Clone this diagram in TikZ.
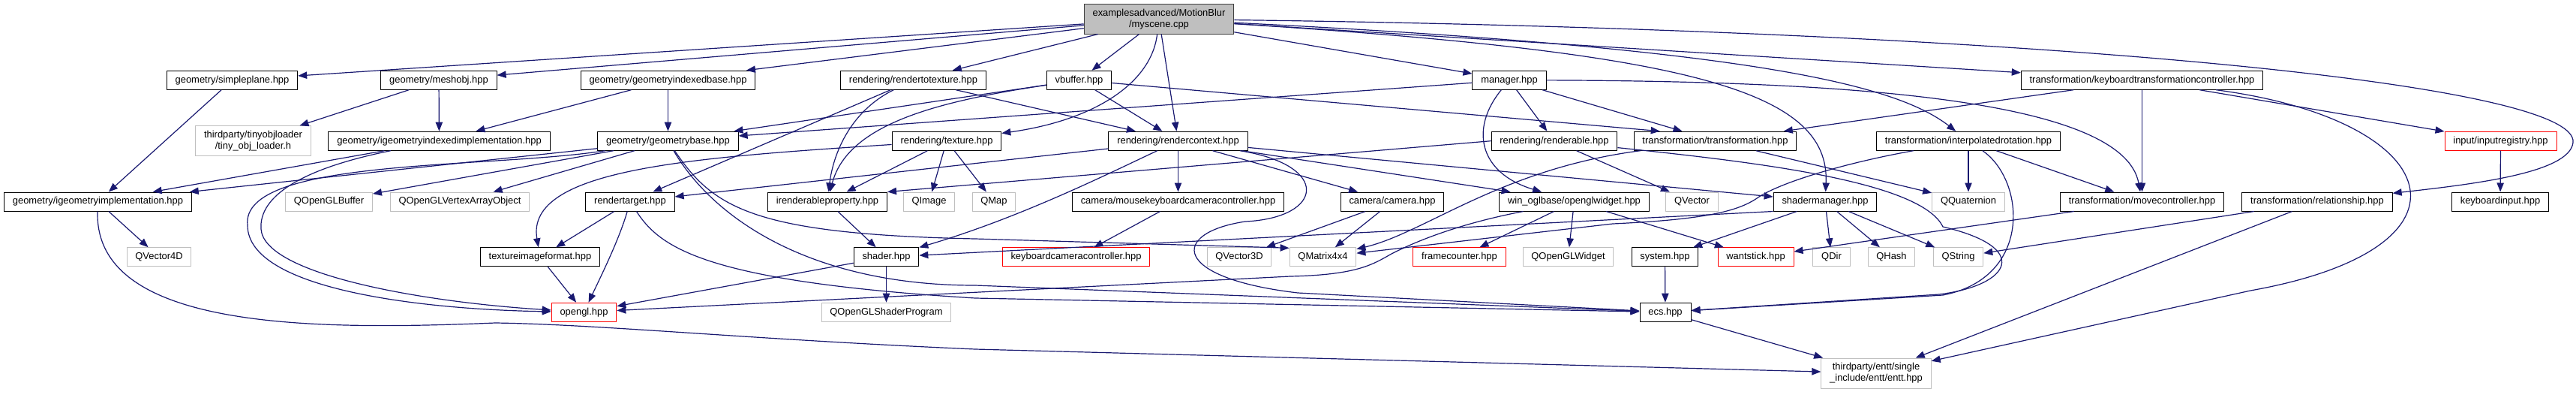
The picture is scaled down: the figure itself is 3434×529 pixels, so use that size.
\documentclass[tikz,border=0pt]{standalone}
\usepackage{fontspec}
\setmainfont{Liberation Sans}
\usetikzlibrary{arrows.meta}
\definecolor{dxblue}{HTML}{191970}
\definecolor{dxgrey}{HTML}{BFBFBF}
\definecolor{dxred}{HTML}{FF0000}
\definecolor{dxdark}{HTML}{404040}
\tikzset{
  every picture/.style={font=\fontsize{9.7}{11.25}\selectfont, line width=0.75pt},
  hdr/.style={draw=#1, inner xsep=8.5pt, inner ysep=1pt, minimum height=18.75pt, align=center},
  hdr/.default=black,
  dep/.style={-{Triangle[length=9pt, width=7pt]}, draw=dxblue, line width=0.9pt},
}

\begin{document}
\begin{tikzpicture}[x=0.75pt, y=-0.75pt,
  rootfile/.style={hdr=dxdark, fill=dxgrey, minimum height=29.6pt},
  ext/.style={hdr=dxgrey},
  miss/.style={hdr=dxred}]
  \useasboundingbox (0,0) rectangle (3434,529);

  \node[rootfile] (root) at (1545,25.3) {examplesadvanced/MotionBlur\\/myscene.cpp};

  \node[hdr] (simpleplane) at (309.5,106.7) {geometry/simpleplane.hpp};
  \node[hdr] (meshobj) at (585,106.7) {geometry/meshobj.hpp};
  \node[hdr] (gidxbase) at (890.5,106.7) {geometry/geometryindexedbase.hpp};
  \node[hdr] (rtt) at (1217.5,106.7) {rendering/rendertotexture.hpp};
  \node[hdr] (vbuffer) at (1438.5,106.7) {vbuffer.hpp};
  \node[hdr] (manager) at (2012,106.7) {manager.hpp};
  \node[hdr] (kbdtrafo) at (2855.5,106.7) {transformation/keyboardtransformationcontroller.hpp};

  \node[ext, minimum height=29.6pt] (tinyobj) at (337.5,187.5) {thirdparty/tinyobjloader\\/tiny\_obj\_loader.h};
  \node[hdr] (igidx) at (585.5,187.7) {geometry/igeometryindexedimplementation.hpp};
  \node[hdr] (gbase) at (890.5,187.7) {geometry/geometrybase.hpp};
  \node[hdr] (texture) at (1262,187.7) {rendering/texture.hpp};
  \node[hdr] (rctx) at (1570.5,187.7) {rendering/rendercontext.hpp};
  \node[hdr] (renderable) at (2072,187.7) {rendering/renderable.hpp};
  \node[hdr] (trafo) at (2286.5,187.7) {transformation/transformation.hpp};
  \node[hdr] (interprot) at (2624,187.7) {transformation/interpolatedrotation.hpp};
  \node[miss] (inputreg) at (3333.5,187.7) {input/inputregistry.hpp};

  \node[hdr] (igimpl) at (130.5,268.5) {geometry/igeometryimplementation.hpp};
  \node[ext] (qglbuffer) at (438.5,268.5) {QOpenGLBuffer};
  \node[ext] (qglvao) at (613,268.5) {QOpenGLVertexArrayObject};
  \node[hdr] (rtarget) at (840,268.5) {rendertarget.hpp};
  \node[hdr] (irprop) at (1103,268.5) {irenderableproperty.hpp};
  \node[ext] (qimage) at (1238.5,268.5) {QImage};
  \node[ext] (qmap) at (1325,268.5) {QMap};
  \node[hdr] (mkcc) at (1570.5,268.5) {camera/mousekeyboardcameracontroller.hpp};
  \node[hdr] (camera) at (1856,268.5) {camera/camera.hpp};
  \node[hdr] (oglwidget) at (2098.5,268.5) {win\_oglbase/openglwidget.hpp};
  \node[ext] (qvector) at (2255.5,268.5) {QVector};
  \node[hdr] (shadermgr) at (2433,268.5) {shadermanager.hpp};
  \node[ext] (qquat) at (2624,268.5) {QQuaternion};
  \node[hdr] (movectrl) at (2855.5,268.5) {transformation/movecontroller.hpp};
  \node[hdr] (relation) at (3089,268.5) {transformation/relationship.hpp};
  \node[hdr] (kbdinput) at (3333,268.5) {keyboardinput.hpp};

  \node[ext] (qvec4d) at (212,342.3) {QVector4D};
  \node[hdr] (tiformat) at (720,342.3) {textureimageformat.hpp};
  \node[hdr] (shader) at (1181.5,342.3) {shader.hpp};
  \node[miss] (kbdcam) at (1434.5,342.3) {keyboardcameracontroller.hpp};
  \node[ext] (qvec3d) at (1652,342.3) {QVector3D};
  \node[ext] (qmatrix) at (1763.5,342.3) {QMatrix4x4};
  \node[miss] (framecnt) at (1945.5,342.3) {framecounter.hpp};
  \node[ext] (qglwidget) at (2090.5,342.3) {QOpenGLWidget};
  \node[hdr] (system) at (2219.5,342.3) {system.hpp};
  \node[miss] (wantstick) at (2340.5,342.3) {wantstick.hpp};
  \node[ext] (qdir) at (2441.5,342.3) {QDir};
  \node[ext] (qhash) at (2521.5,342.3) {QHash};
  \node[ext] (qstring) at (2610.5,342.3) {QString};

  \node[miss] (opengl) at (778.5,415.7) {opengl.hpp};
  \node[ext] (qglshader) at (1181.5,415.7) {QOpenGLShaderProgram};
  \node[hdr] (ecs) at (2220,415.7) {ecs.hpp};
  \node[ext, minimum height=30pt] (entt) at (2501,497) {thirdparty/entt/single\\\_include/entt/entt.hpp};

  \draw[dep] (root) -- (simpleplane);
  \draw[dep] (root) -- (meshobj);
  \draw[dep] (root) -- (gidxbase);
  \draw[dep] (root) -- (rtt);
  \draw[dep] (root) -- (vbuffer);
  \draw[dep] (root) -- (rctx);
  \draw[dep] (root) .. controls (1535,110) and (1460,160) .. (texture);
  \draw[dep] (root) -- (manager);
  \draw[dep] (root) .. controls (2250,70) and (2440,120) .. (shadermgr);
  \draw[dep] (root) .. controls (2350,65) and (2530,115) .. (interprot);
  \draw[dep] (root) -- (kbdtrafo);
  \draw[dep] (root) .. controls (2700,40) and (3440,110) .. (3430,190) .. controls (3425,230) and (3300,245) .. (relation);

  \draw[dep] (simpleplane) -- (igimpl);
  \draw[dep] (meshobj) -- (tinyobj);
  \draw[dep] (meshobj) -- (igidx);
  \draw[dep] (gidxbase) -- (igidx);
  \draw[dep] (gidxbase) -- (gbase);
  \draw[dep] (rtt) -- (rtarget);
  \draw[dep] (rtt) .. controls (1130,150) and (1110,210) .. (irprop);
  \draw[dep] (rtt) -- (rctx);
  \draw[dep] (vbuffer) -- (gbase);
  \draw[dep] (vbuffer) .. controls (1250,135) and (1130,165) .. (irprop);
  \draw[dep] (vbuffer) -- (rctx);
  \draw[dep] (vbuffer) -- (trafo.170);
  \draw[dep] (manager) -- (gbase);
  \draw[dep] (manager) -- (trafo);
  \draw[dep] (manager) -- (renderable);
  \draw[dep] (manager) .. controls (1960,170) and (1970,230) .. (oglwidget);
  \draw[dep] (manager) .. controls (2450,108) and (2830,130) .. (movectrl);
  \draw[dep] (kbdtrafo) -- (trafo);
  \draw[dep] (kbdtrafo) -- (movectrl);
  \draw[dep] (kbdtrafo) -- (inputreg);
  \draw[dep] (kbdtrafo) .. controls (3260,160) and (3320,330) .. (3000,387) -- (entt);

  \draw[dep] (igidx) -- (igimpl);
  \draw[dep] (igidx) .. controls (400,225) and (345,262) .. (348,305) .. controls (352,365) and (560,402) .. (opengl);
  \draw[dep] (gbase) -- (igimpl);
  \draw[dep] (gbase) -- (qglbuffer);
  \draw[dep] (gbase) -- (qglvao);
  \draw[dep] (gbase) .. controls (650,225) and (320,210) .. (330,300) .. controls (330,385) and (560,412) .. (opengl);
  \draw[dep] (gbase) .. controls (950,275) and (1000,312) .. (1300,318) -- (qmatrix.165);
  \draw[dep] (gbase) .. controls (950,290) and (1080,380) .. (1300,380) -- (ecs);
  \draw[dep] (texture) .. controls (920,210) and (700,225) .. (tiformat);
  \draw[dep] (texture) -- (irprop);
  \draw[dep] (texture) -- (qimage);
  \draw[dep] (texture) -- (qmap);
  \draw[dep] (rctx) -- (rtarget);
  \draw[dep] (rctx) .. controls (1480,230) and (1360,290) .. (shader);
  \draw[dep] (rctx) -- (mkcc);
  \draw[dep] (rctx) -- (camera);
  \draw[dep] (rctx) -- (oglwidget);
  \draw[dep] (rctx) -- (shadermgr);
  \draw[dep] (rctx) .. controls (1775,220) and (1765,290) .. (1660,295) .. controls (1560,310) and (1560,370) .. (1730,390) -- (ecs);
  \draw[dep] (renderable.west) -- (irprop.north east);
  \draw[dep] (renderable) -- (qvector);
  \draw[dep] (renderable) .. controls (2330,215) and (2560,240) .. (2590,302) .. controls (2710,330) and (2680,380) .. (2585,392) -- (ecs);
  \draw[dep] (trafo) .. controls (2000,225) and (1900,310) .. (qmatrix);
  \draw[dep] (trafo) -- (qquat);
  \draw[dep] (interprot) -- (qquat);
  \draw[dep] (interprot) -- (movectrl);
  \draw[dep] (interprot) .. controls (2700,240) and (2710,370) .. (2590,393) -- (ecs);
  \draw[dep] (interprot) .. controls (2470,215) and (2380,240) .. (2345,262) .. controls (2320,280) and (2280,292) .. (2150,298) -- (qmatrix);
  \draw[dep] (inputreg) -- (kbdinput);

  \draw[dep] (igimpl) -- (qvec4d);
  \draw[dep] (igimpl) .. controls (125,440) and (420,440) .. (660,430) .. controls (800,432) and (1000,452) .. (1300,465) -- (entt);
  \draw[dep] (rtarget) -- (tiformat);
  \draw[dep] (rtarget) .. controls (825,320) and (800,370) .. (opengl);
  \draw[dep] (rtarget) .. controls (880,330) and (940,375) .. (1300,397) -- (ecs);
  \draw[dep] (irprop) -- (shader);
  \draw[dep] (mkcc) -- (kbdcam);
  \draw[dep] (camera) -- (qvec3d);
  \draw[dep] (camera) -- (qmatrix);
  \draw[dep] (oglwidget) -- (framecnt);
  \draw[dep] (oglwidget) -- (qglwidget);
  \draw[dep] (oglwidget) -- (wantstick);
  \draw[dep] (oglwidget) .. controls (1960,295) and (1900,315) .. (1855,338) .. controls (1830,352) and (1810,366) .. (1720,368) -- (opengl);
  \draw[dep] (shadermgr.south west) -- (shader);
  \draw[dep] (shadermgr) -- (system);
  \draw[dep] (shadermgr) -- (qdir);
  \draw[dep] (shadermgr) -- (qhash);
  \draw[dep] (shadermgr) -- (qstring);
  \draw[dep] (movectrl) -- (wantstick);
  \draw[dep] (relation) -- (qstring);
  \draw[dep] (relation) -- (entt);

  \draw[dep] (tiformat) -- (opengl);
  \draw[dep] (shader) -- (qglshader);
  \draw[dep] (shader) -- (opengl);
  \draw[dep] (system) -- (ecs);
  \draw[dep] (ecs) -- (entt);
\end{tikzpicture}
\end{document}
